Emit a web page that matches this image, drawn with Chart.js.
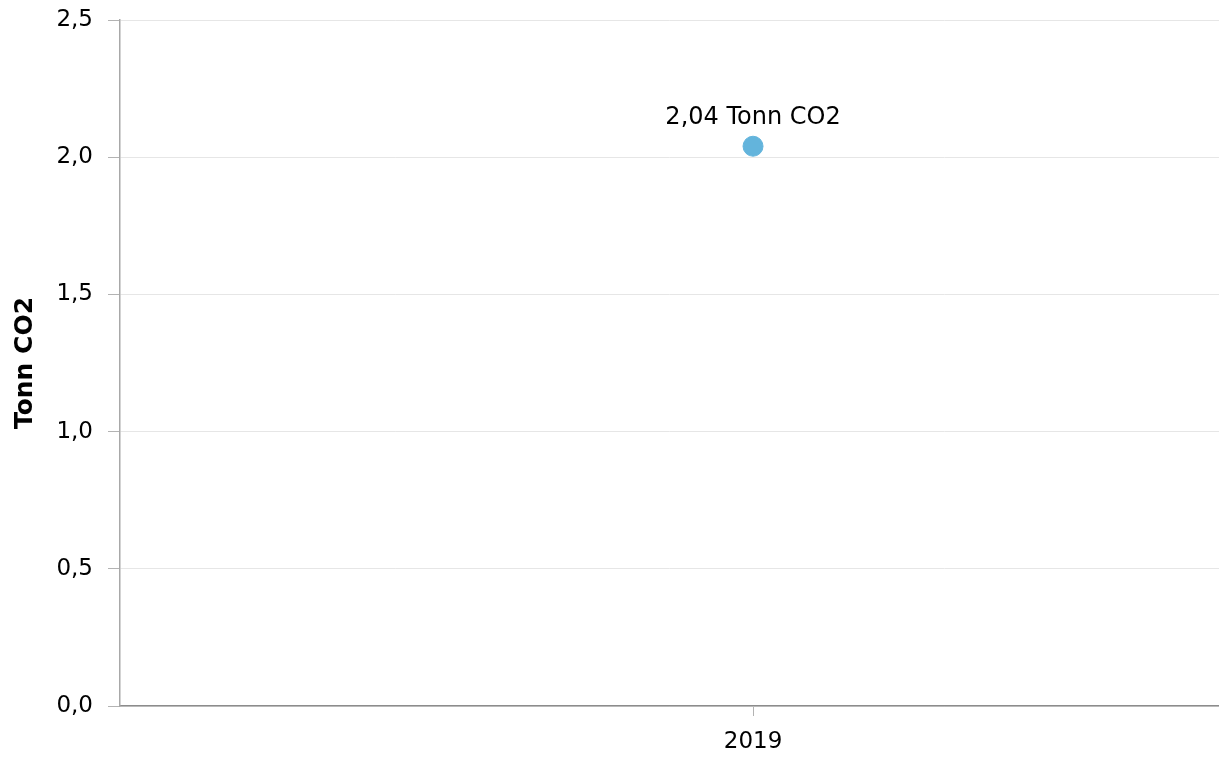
<!DOCTYPE html>
<html lang="no">
<head>
  <meta charset="UTF-8">
  <title>Tonn CO2</title>
  <script src="https://cdn.jsdelivr.net/npm/chart.js"></script>
  <style>
    body {
      margin: 0;
      background: #fff;
    }
    .wrap {
      width: 1219px;
      height: 760px;
    }
  </style>
</head>
<body>

  <div class="wrap">
    <canvas id="co2Chart"></canvas>
  </div>

  <script>
    const years = [2019];
    const co2Values = [2.04];
    const yTicks = [0, 0.5, 1.0, 1.5, 2.0, 2.5];
    const unit = 'Tonn CO2';

    const fmt = (v, d) => v.toFixed(d).replace('.', ',');

    // value label above each point
    const pointLabels = {
      id: 'pointLabels',
      afterDatasetsDraw(chart) {
        const ctx = chart.ctx;
        const meta = chart.getDatasetMeta(0);
        ctx.save();
        ctx.font = '24px "DejaVu Sans", Verdana, sans-serif';
        ctx.fillStyle = '#000';
        ctx.textAlign = 'center';
        ctx.textBaseline = 'middle';
        meta.data.forEach((pt, i) => {
          ctx.fillText(fmt(co2Values[i], 2) + ' ' + unit, pt.x, pt.y - 28);
        });
        ctx.restore();
      }
    };

    const ctx = document.getElementById('co2Chart').getContext('2d');
    Chart.defaults.font.family = '"DejaVu Sans", Verdana, sans-serif';
    Chart.defaults.font.size = 23;
    Chart.defaults.color = '#000';

    new Chart(ctx, {
      type: 'scatter',
      data: {
        datasets: [{
          label: unit,
          data: years.map((y, i) => ({ x: y, y: co2Values[i] })),
          backgroundColor: '#63b4dc',
          borderColor: '#63b4dc',
          pointRadius: 10,
          pointHoverRadius: 10
        }]
      },
      options: {
        responsive: true,
        maintainAspectRatio: false,
        animation: false,
        layout: { autoPadding: false, padding: { top: 20, right: 0, left: 0, bottom: 0 } },
        plugins: {
          legend: { display: false },
          tooltip: { enabled: false }
        },
        scales: {
          x: {
            type: 'linear',
            min: 2018.424,
            max: 2019.424,
            afterBuildTicks: (s) => { s.ticks = years.map(v => ({ value: v })); },
            afterFit: (s) => { s.height = 54; s.paddingLeft = 0; s.paddingRight = 0; },
            ticks: {
              callback: (v) => String(v),
              padding: 12,
              maxRotation: 0
            },
            grid: {
              drawOnChartArea: false,
              drawTicks: true,
              tickLength: 10,
              tickColor: '#b3b3b3'
            },
            border: { color: '#8c8c8c', width: 1.5 }
          },
          y: {
            min: 0,
            max: 2.5,
            afterBuildTicks: (s) => { s.ticks = yTicks.map(v => ({ value: v })); },
            afterFit: (s) => { s.width = 120; s.paddingTop = 0; s.paddingBottom = 0; },
            ticks: {
              callback: (v) => fmt(v, 1),
              padding: 15
            },
            grid: {
              color: '#e6e6e6',
              tickColor: '#b3b3b3',
              tickLength: 12
            },
            border: { color: '#a8a8a8', width: 1.5 },
            title: {
              display: true,
              text: unit,
              font: { weight: 'bold', size: 25 },
              padding: { top: 10, bottom: 10 }
            }
          }
        }
      },
      plugins: [pointLabels]
    });
  </script>

</body>
</html>
